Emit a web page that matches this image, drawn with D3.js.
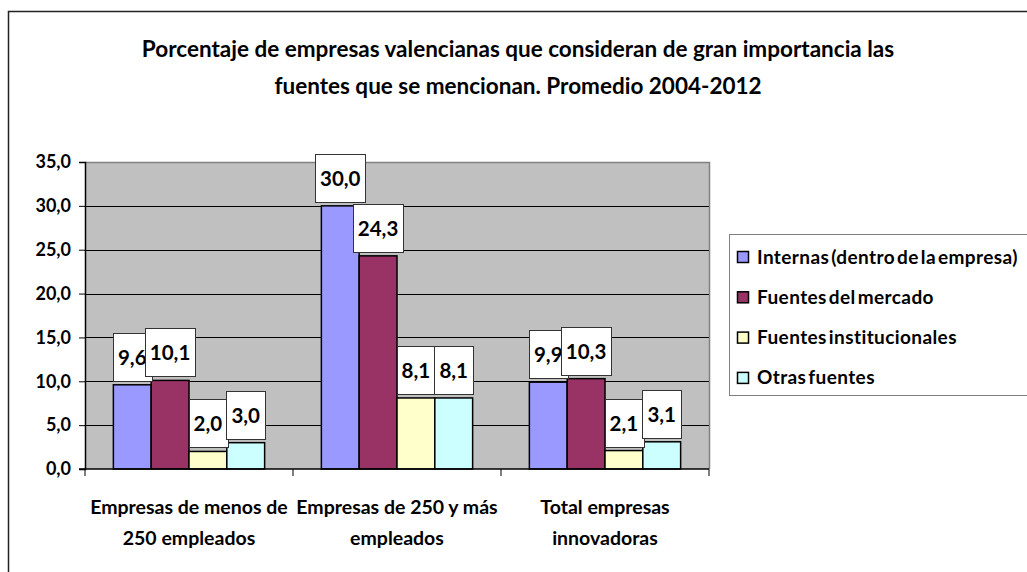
<!DOCTYPE html>
<html>
<head>
<meta charset="utf-8">
<script src="https://cdn.jsdelivr.net/npm/d3@7"></script>
<style>
  body { margin: 0; background: #fff; }
  text { font-family: Lato, "Open Sans", sans-serif; font-weight: bold; fill: #000; }
</style>
</head>
<body>
<div id="chart"></div>
<script>
// chart data
const CATEGORIES = ["Empresas de menos de 250 empleados", "Empresas de 250 y más empleados", "Total empresas innovadoras"]
const CATEGORY_LINES = [["Empresas de menos de", "250 empleados"], ["Empresas de 250 y más", "empleados"], ["Total empresas", "innovadoras"]]
const SERIES = ["Internas (dentro de la empresa)", "Fuentes del mercado", "Fuentes institucionales", "Otras fuentes"]
const INTERNAS = [9.6, 30.0, 9.9]
const MERCADO = [10.1, 24.3, 10.3]
const INSTITUCIONALES = [2.0, 8.1, 2.1]
const OTRAS = [3.0, 8.1, 3.1]
const Y_TICKS = [0, 5, 10, 15, 20, 25, 30, 35]
const TITLE_LINES = ["Porcentaje de empresas valencianas que consideran de gran importancia las",
    "fuentes que se mencionan. Promedio 2004-2012"]

const SERIES_VALUES = [INTERNAS, MERCADO, INSTITUCIONALES, OTRAS]
const COLORS = d3.scaleOrdinal().domain(SERIES).range(["#9999FF", "#993366", "#FFFFCC", "#CCFFFF"])

const WIDTH = 1027, HEIGHT = 572
const PLOT = { left: 85, right: 709, top: 162, bottom: 469 }

const fmt = v => d3.format(".1f")(v).replace(".", ",")

let svg = d3.select("#chart").append("svg")
    .attr("width", WIDTH)
    .attr("height", HEIGHT)

// outer chart border (runs off the right/bottom edges)
svg.append("rect")
    .attr("x", 8.5).attr("y", 11.5)
    .attr("width", 1100).attr("height", 700)
    .attr("fill", "#fff")
    .attr("stroke", "#222")
    .attr("stroke-width", 1.5)

// title
svg.selectAll("text.title")
    .data(TITLE_LINES)
    .enter().append("text")
    .attr("class", "title")
    .attr("x", 518)
    .attr("y", (d, i) => 57 + i * 37)
    .attr("text-anchor", "middle")
    .style("font-size", "22.5px")
    .text(d => d)

// scales
let x0 = d3.scaleBand().domain(CATEGORIES).range([PLOT.left, PLOT.right])
let x1 = d3.scaleBand().domain(SERIES).range([0, x0.bandwidth()]).paddingOuter(0.75)
let y = d3.scaleLinear().domain([0, 35]).range([PLOT.bottom, PLOT.top])

// plot background
svg.append("rect")
    .attr("x", PLOT.left).attr("y", PLOT.top)
    .attr("width", PLOT.right - PLOT.left)
    .attr("height", PLOT.bottom - PLOT.top)
    .attr("fill", "#C0C0C0")

// gridlines
svg.append("g")
    .selectAll("line")
    .data(Y_TICKS.filter(d => d > 0 && d < 35))
    .enter().append("line")
    .attr("x1", PLOT.left).attr("x2", PLOT.right)
    .attr("y1", d => Math.round(y(d)) + 0.5)
    .attr("y2", d => Math.round(y(d)) + 0.5)
    .attr("stroke", "#000")
    .attr("stroke-width", 1)

// plot border top + right (gray)
svg.append("path")
    .attr("d", `M${PLOT.left},${PLOT.top + 0.5}H${PLOT.right + 0.5}V${PLOT.bottom}`)
    .attr("fill", "none")
    .attr("stroke", "#808080")
    .attr("stroke-width", 1.5)

// y axis
let yAxis = svg.append("g")
    .attr("transform", `translate(${PLOT.left},0)`)
    .call(d3.axisLeft(y).tickValues(Y_TICKS).tickFormat(fmt).tickSize(6).tickPadding(8))
yAxis.select(".domain").attr("stroke", "#000").attr("stroke-width", 1.5)
yAxis.selectAll(".tick line").attr("stroke", "#000").attr("stroke-width", 1)
yAxis.selectAll(".tick text")
    .style("font-family", "Lato, sans-serif")
    .style("font-weight", "bold")
    .style("font-size", "18px")

// bars
let groups = svg.append("g")
    .selectAll("g")
    .data(CATEGORIES)
    .enter().append("g")
    .attr("transform", d => `translate(${x0(d)},0)`)

let barData = (c, ci) => SERIES.map((s, si) => ({ series: s, value: SERIES_VALUES[si][ci] }))

groups.selectAll("rect")
    .data(barData)
    .enter().append("rect")
    .attr("x", d => x1(d.series))
    .attr("y", d => y(d.value))
    .attr("width", x1.bandwidth())
    .attr("height", d => y(0) - y(d.value))
    .attr("fill", d => COLORS(d.series))
    .attr("stroke", "#000")
    .attr("stroke-width", 1.5)

// x axis
let xAxis = svg.append("g")
    .attr("transform", `translate(0,${PLOT.bottom})`)
xAxis.append("line")
    .attr("x1", PLOT.left - 6).attr("x2", PLOT.right)
    .attr("stroke", "#000").attr("stroke-width", 1.5)
xAxis.selectAll("line.tick")
    .data([PLOT.left].concat(CATEGORIES.map(c => x0(c) + x0.bandwidth())))
    .enter().append("line")
    .attr("class", "tick")
    .attr("x1", d => d).attr("x2", d => d)
    .attr("y1", 0).attr("y2", 7)
    .attr("stroke", "#000")

xAxis.selectAll("text")
    .data(CATEGORIES)
    .enter().append("text")
    .attr("x", d => x0(d) + x0.bandwidth() / 2)
    .attr("text-anchor", "middle")
    .style("font-size", "19.5px")
    .each(function (d, i) {
        d3.select(this).selectAll("tspan")
            .data(CATEGORY_LINES[i])
            .enter().append("tspan")
            .attr("x", x0(d) + x0.bandwidth() / 2)
            .attr("y", (t, j) => 45 + j * 31)
            .text(t => t)
    })

// data labels (boxed)
let labels = groups.selectAll("g.label")
    .data(barData)
    .enter().append("g")
    .attr("class", "label")

labels.each(function (d) {
    let g = d3.select(this)
    let cx = x1(d.series) + x1.bandwidth() / 2
    let bottom = y(d.value) - 4
    let box = g.append("rect")
    let t = g.append("text")
        .attr("x", cx)
        .attr("y", bottom - 24 + 8)
        .attr("text-anchor", "middle")
        .style("font-size", "20.5px")
        .text(fmt(d.value))
    let w = Math.max(t.node().getComputedTextLength() + 10, x1.bandwidth())
    box.attr("x", Math.round(cx - w / 2) + 0.5)
        .attr("y", Math.round(bottom - 48) + 0.5)
        .attr("width", Math.round(w))
        .attr("height", 48)
        .attr("fill", "#fff")
        .attr("stroke", "#333")
        .attr("stroke-width", 1)
})

// legend
let legend = svg.append("g")
legend.append("rect")
    .attr("x", 729.5).attr("y", 234.5)
    .attr("width", 400).attr("height", 161)
    .attr("fill", "#fff")
    .attr("stroke", "#808080")

let items = legend.selectAll("g")
    .data(SERIES)
    .enter().append("g")
    .attr("transform", (d, i) => `translate(0,${257 + i * 40.3})`)

items.append("rect")
    .attr("x", 737.5).attr("y", -5.5)
    .attr("width", 11).attr("height", 11)
    .attr("fill", d => COLORS(d))
    .attr("stroke", "#000")
    .attr("stroke-width", 1.5)

items.append("text")
    .attr("x", 757)
    .attr("y", 6.5)
    .style("font-size", "19px")
    .style("letter-spacing", "0.4px")
    .style("word-spacing", "-3px")
    .text(d => d)
</script>
</body>
</html>
